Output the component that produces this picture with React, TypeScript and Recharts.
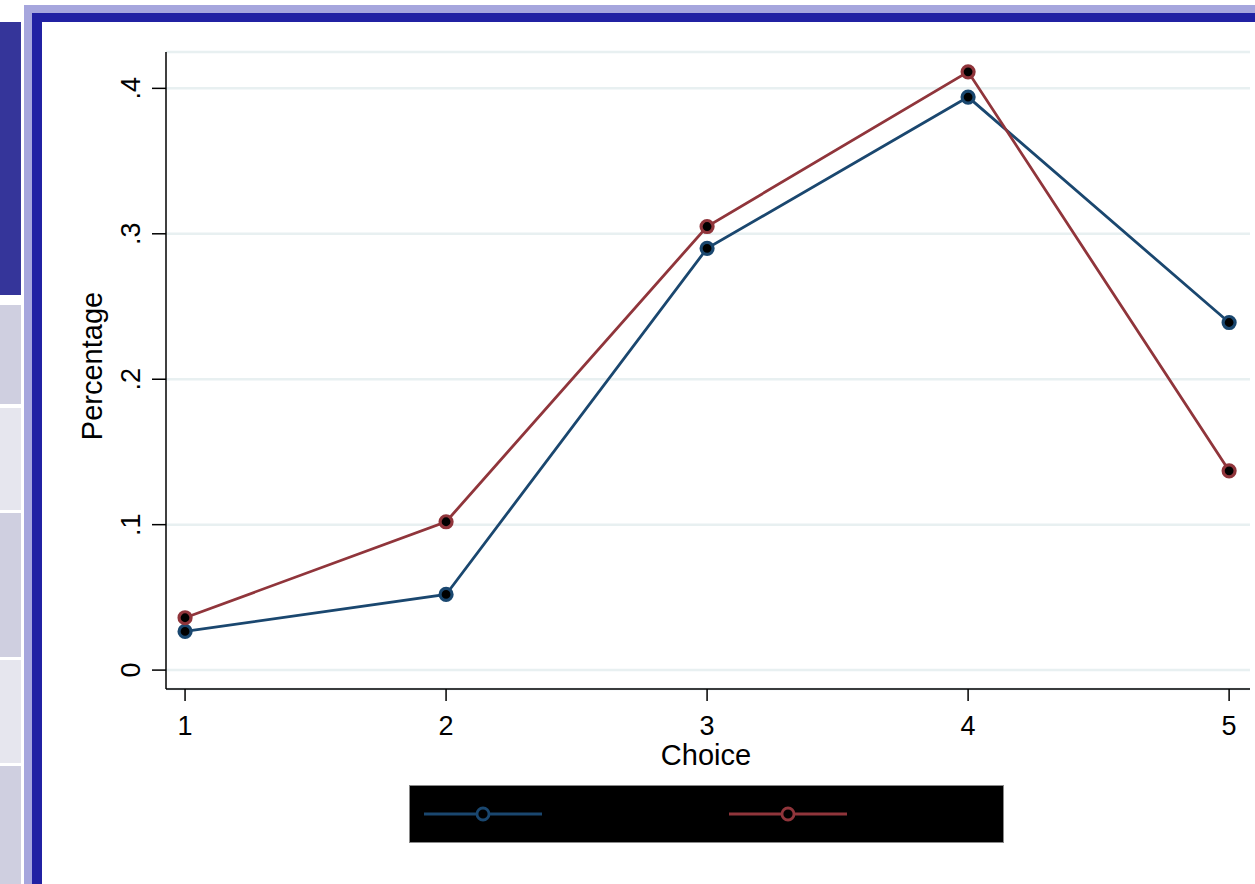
import React from "react";
import { LineChart, Line, XAxis, YAxis, CartesianGrid } from "recharts";

const choices = [1, 2, 3, 4, 5];
const seriesA = [0.0266, 0.052, 0.29, 0.394, 0.239];
const seriesB = [0.036, 0.102, 0.305, 0.4114, 0.137];
const seriesNames = ["Model 1", "Model 2"];
const seriesColors = ["#1a476f", "#90353b"];
const yTicks = [0, 0.1, 0.2, 0.3, 0.4];
const yTickLabels = ["0", ".1", ".2", ".3", ".4"];
const xTicks = [1, 2, 3, 4, 5];

const data = choices.map((c, i) => ({ choice: c, a: seriesA[i], b: seriesB[i] }));

const FONT = "'Liberation Sans', Arial, sans-serif";

const YTick = (props: any) => {
  const { y, payload } = props;
  const idx = yTicks.indexOf(payload.value);
  const label = idx >= 0 ? yTickLabels[idx] : String(payload.value);
  return (
    <text
      x={140}
      y={y}
      transform={`rotate(-90, 140, ${y})`}
      textAnchor="middle"
      fontSize={27}
      fontFamily={FONT}
      fill="#000"
    >
      {label}
    </text>
  );
};

const XTick = (props: any) => {
  const { x, payload } = props;
  return (
    <text x={x} y={735} textAnchor="middle" fontSize={27} fontFamily={FONT} fill="#000">
      {payload.value}
    </text>
  );
};

const dotFor = (color: string) => (p: any) => (
  <circle key={`d-${p.index}-${color}`} cx={p.cx} cy={p.cy} r={6} fill="#000" stroke={color} strokeWidth={3.2} />
);

const box = (left: number, top: number, width: number, height: number, bg: string): React.CSSProperties => ({
  position: "absolute",
  left,
  top,
  width,
  height,
  background: bg,
});

export default function App() {
  return (
    <div style={{ position: "absolute", left: 0, top: 0, width: 1255, height: 884, background: "#fff", overflow: "hidden" }}>
      {/* slide decorations */}
      <div style={box(0, 22, 21, 273, "#35359a")} />
      <div style={box(0, 305, 21, 99, "#cfcfe0")} />
      <div style={box(0, 408, 21, 102, "#e6e6ee")} />
      <div style={box(0, 513, 21, 144, "#cfcfe0")} />
      <div style={box(0, 660, 21, 103, "#e6e6ee")} />
      <div style={box(0, 766, 21, 118, "#cfcfe0")} />
      <div style={box(24, 5, 1231, 8, "#a6a6dd")} />
      <div style={box(24, 5, 8, 879, "#a6a6dd")} />
      <div style={box(32, 13, 1223, 9, "#2121a3")} />
      <div style={box(32, 13, 10, 871, "#2121a3")} />

      <div style={{ position: "absolute", left: 0, top: 0 }}>
        <LineChart
          width={1255}
          height={884}
          data={data}
          margin={{ top: 52, right: 5, bottom: 135, left: 0 }}
        >
          <CartesianGrid horizontal vertical={false} stroke="#e8f0f1" strokeWidth={2.5} />
          <XAxis
            dataKey="choice"
            type="number"
            domain={[0.927, 5.08]}
            ticks={xTicks}
            allowDataOverflow
            height={60}
            tickSize={12}
            tick={<XTick />}
            axisLine={{ stroke: "#000", strokeWidth: 1.5 }}
            tickLine={{ stroke: "#000", strokeWidth: 1.5 }}
            label={{ value: "Choice", content: () => (
              <text x={706} y={765} textAnchor="middle" fontSize={29} fontFamily={FONT} fill="#000">Choice</text>
            ) }}
          />
          <YAxis
            type="number"
            domain={[-0.013, 0.425]}
            ticks={yTicks}
            allowDataOverflow
            width={166}
            tickSize={14}
            tick={<YTick />}
            axisLine={{ stroke: "#000", strokeWidth: 1.5 }}
            tickLine={{ stroke: "#000", strokeWidth: 1.5 }}
            label={{ value: "Percentage", content: () => (
              <text x={102} y={366} transform="rotate(-90, 102, 366)" textAnchor="middle" fontSize={29} fontFamily={FONT} fill="#000">Percentage</text>
            ) }}
          />
          <Line
            dataKey="a"
            name={seriesNames[0]}
            stroke={seriesColors[0]}
            strokeWidth={2.8}
            dot={dotFor(seriesColors[0])}
            isAnimationActive={false}
          />
          <Line
            dataKey="b"
            name={seriesNames[1]}
            stroke={seriesColors[1]}
            strokeWidth={2.8}
            dot={dotFor(seriesColors[1])}
            isAnimationActive={false}
          />
        </LineChart>
      </div>

      {/* legend */}
      <div style={{ position: "absolute", left: 409, top: 785, width: 593, height: 56, background: "#000", border: "1px solid #8a8a8a" }}>
        <svg width={593} height={56}>
          {seriesNames.map((name, i) => {
            const x0 = i === 0 ? 14 : 319;
            return (
              <g key={name}>
                <line x1={x0} x2={x0 + 118} y1={28} y2={28} stroke={seriesColors[i]} strokeWidth={2.8} />
                <circle cx={x0 + 59} cy={28} r={6} fill="#000" stroke={seriesColors[i]} strokeWidth={2.8} />
                <text x={x0 + 138} y={38} fontSize={27} fontFamily={FONT} fill="#000">{name}</text>
              </g>
            );
          })}
        </svg>
      </div>
    </div>
  );
}
